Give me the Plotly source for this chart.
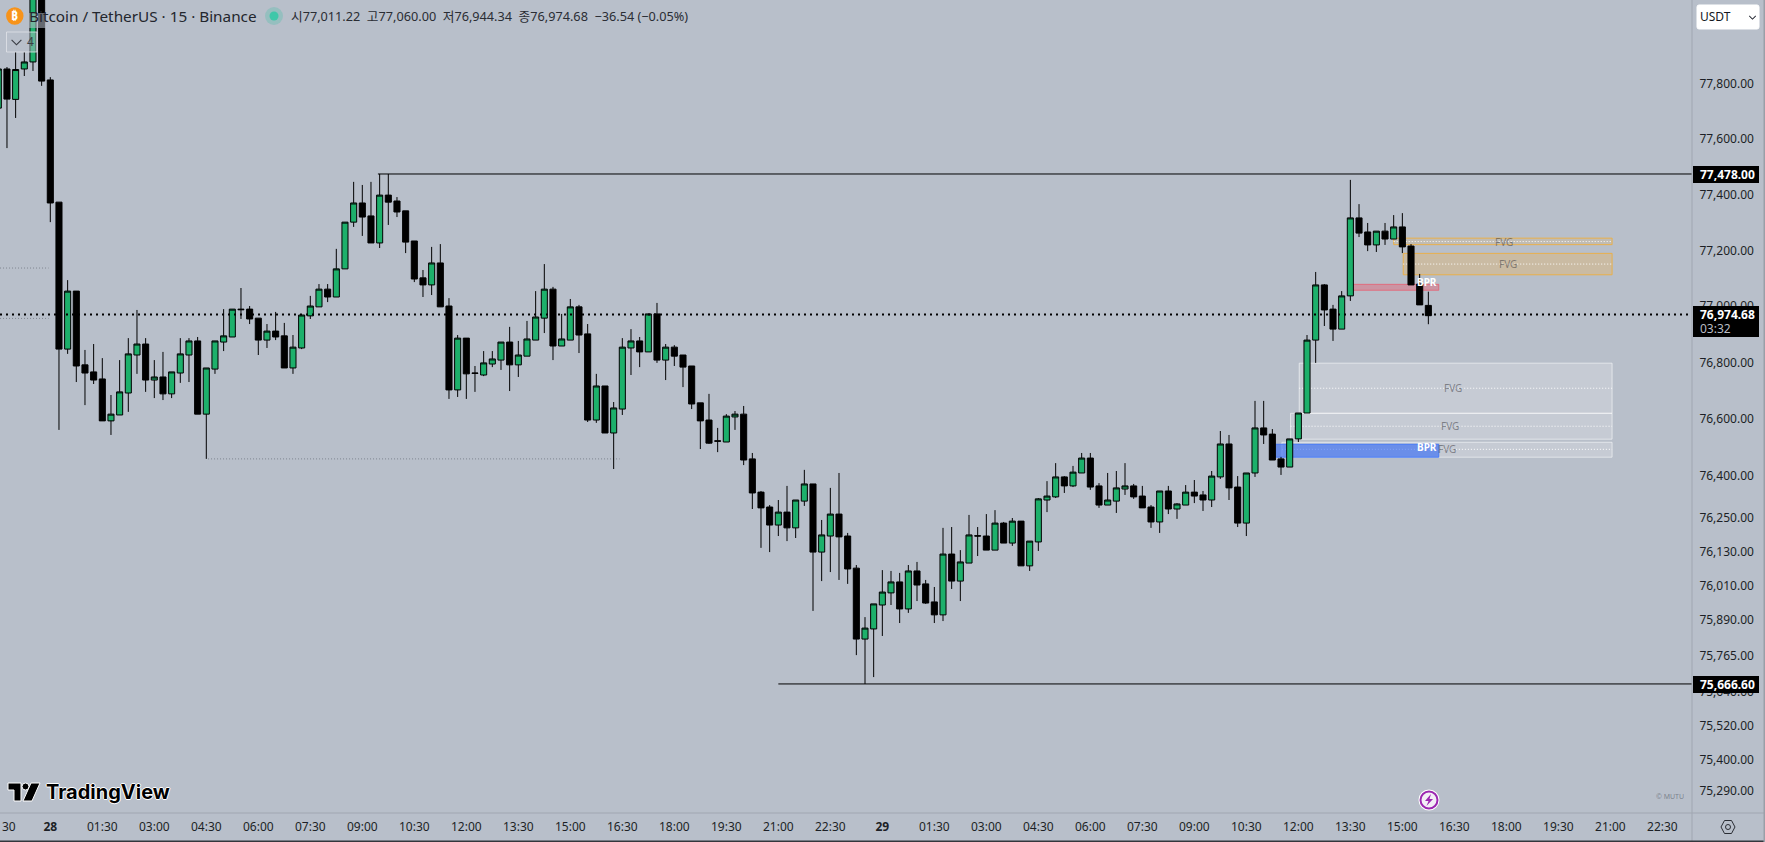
import plotly.graph_objects as go

# ---------- data ----------
bar_index = list(range(-6, 160))  # 15-minute bars, 0 = 28th 00:00

opens = [77712, 77851, 77743, 77851, 77876, 78167, 77812, 77378, 76856, 77062, 76800, 76775, 76750, 76601, 76622, 76700,
         76835, 76874, 76746, 76757, 76697, 76771, 76835, 76885, 76625, 76785, 76881, 76899, 76998, 76998, 76966, 76888,
         76920, 76903, 76789, 76860, 76974, 77006, 77069, 77041, 77141, 77307, 77375, 77329, 77233, 77403, 77382, 77347,
         77240, 77109, 77084, 77162, 77009, 76711, 76895, 76771, 76764, 76803, 76817, 76881, 76800, 76831, 76888, 76966,
         77069, 76867, 76888, 77006, 76910, 76604, 76725, 76558, 76643, 76860, 76885, 76846, 76981, 76817, 76863, 76835,
         76796, 76665, 76604, 76530, 76526, 76615, 76625, 76466, 76348, 76295, 76231, 76277, 76221, 76316, 76377, 76135,
         76192, 76270, 76192, 76078, 75826, 75862, 75947, 75990, 76029, 75933, 76068, 76022, 75958, 75912, 76128, 76032,
         76096, 76193, 76192, 76142, 76238, 76167, 76245, 76086, 76171, 76320, 76331, 76402, 76370, 76416, 76469, 76370,
         76302, 76316, 76359, 76370, 76334, 76295, 76242, 76352, 76288, 76302, 76348, 76338, 76320, 76402, 76519, 76366,
         76238, 76416, 76576, 76554, 76466, 76437, 76537, 76629, 76888, 77084, 76998, 76927, 77045, 77322, 77272, 77226,
         77275, 77247, 77290, 77222, 77087, 77011.22]

highs = [77870, 77858, 77911, 77911, 78200, 78200, 77822, 77378, 77101, 77062, 76853, 76874, 76824, 76693, 76817, 76895,
         76995, 76895, 76817, 76846, 76775, 76895, 76895, 76899, 76789, 76885, 76998, 76998, 77073, 77009, 76966, 76945,
         76988, 76949, 76906, 76977, 77045, 77087, 77087, 77212, 77307, 77450, 77439, 77450, 77478, 77478, 77396, 77347,
         77240, 77137, 77219, 77229, 77037, 76906, 76895, 76796, 76849, 76849, 76881, 76935, 76885, 76956, 77062, 77158,
         77077, 76981, 77034, 77013, 76945, 76768, 76725, 76668, 76895, 76927, 76899, 76981, 77020, 76874, 76870, 76835,
         76796, 76665, 76697, 76576, 76625, 76636, 76654, 76487, 76352, 76302, 76320, 76370, 76320, 76427, 76377, 76249,
         76363, 76416, 76203, 76089, 75904, 75951, 76071, 76068, 76061, 76089, 76100, 76036, 76011, 76221, 76224, 76142,
         76267, 76224, 76270, 76284, 76242, 76256, 76245, 76174, 76327, 76387, 76451, 76405, 76441, 76487, 76487, 76380,
         76416, 76423, 76451, 76377, 76370, 76302, 76352, 76370, 76309, 76373, 76391, 76352, 76423, 76565, 76551, 76405,
         76416, 76672, 76672, 76572, 76473, 76537, 76629, 76906, 77130, 77087, 77013, 77062, 77457, 77371, 77304, 77275,
         77304, 77332, 77339, 77229, 77123, 77060.00]

lows = [77700, 77570, 77677, 77826, 77844, 77791, 77307, 76569, 76839, 76739, 76657, 76732, 76601, 76551, 76622, 76633,
        76768, 76704, 76682, 76675, 76682, 76736, 76739, 76625, 76466, 76768, 76849, 76899, 76963, 76945, 76835, 76860,
        76888, 76789, 76768, 76856, 76963, 77006, 77023, 77041, 77141, 77290, 77258, 77233, 77215, 77297, 77325, 77197,
        77094, 77041, 77048, 77006, 76679, 76686, 76679, 76704, 76760, 76792, 76782, 76707, 76757, 76831, 76888, 76913,
        76817, 76867, 76888, 76842, 76597, 76594, 76558, 76430, 76622, 76764, 76792, 76846, 76807, 76746, 76796, 76721,
        76643, 76501, 76519, 76490, 76526, 76569, 76444, 76288, 76150, 76135, 76192, 76174, 76185, 76299, 75926, 76032,
        76064, 76036, 76022, 75769, 75666.6, 75691, 75837, 75947, 75883, 75919, 75961, 75951, 75883, 75890, 76004, 75961,
        76096, 76121, 76142, 76142, 76167, 76157, 76086, 76068, 76139, 76277, 76327, 76345, 76366, 76416, 76356, 76292,
        76302, 76274, 76338, 76324, 76292, 76221, 76203, 76270, 76253, 76302, 76309, 76281, 76295, 76395, 76320, 76224,
        76192, 76402, 76519, 76462, 76409, 76437, 76526, 76629, 76807, 76938, 76885, 76927, 77027, 77254, 77204, 77201,
        77226, 77247, 77197, 77084, 77013, 76944.34]

closes = [77851, 77744, 77849, 77876, 78167, 77808, 77375, 76856, 77062, 76796, 76771, 76746, 76601, 76625, 76704, 76839,
          76874, 76746, 76757, 76697, 76775, 76839, 76885, 76625, 76789, 76885, 76903, 76998, 76996, 76963, 76888, 76920,
          76899, 76789, 76863, 76977, 77009, 77069, 77041, 77141, 77307, 77375, 77325, 77233, 77403, 77378, 77343, 77236,
          77105, 77084, 77162, 77006, 76711, 76895, 76768, 76770, 76807, 76821, 76881, 76800, 76835, 76892, 76970, 77069,
          76867, 76892, 77006, 76906, 76604, 76725, 76558, 76647, 76863, 76885, 76846, 76981, 76817, 76863, 76831, 76792,
          76661, 76601, 76522, 76529, 76618, 76625, 76462, 76345, 76292, 76231, 76277, 76221, 76320, 76377, 76135, 76196,
          76270, 76189, 76075, 75826, 75865, 75951, 75993, 76029, 75933, 76068, 76018, 75954, 75912, 76128, 76032, 76100,
          76196, 76192, 76142, 76238, 76167, 76245, 76086, 76174, 76324, 76334, 76402, 76370, 76419, 76469, 76366, 76302,
          76320, 76363, 76370, 76331, 76292, 76242, 76352, 76288, 76306, 76348, 76334, 76320, 76405, 76519, 76363, 76238,
          76416, 76576, 76551, 76462, 76437, 76537, 76629, 76888, 77084, 76995, 76927, 77045, 77322, 77268, 77226, 77275,
          77247, 77290, 77219, 77084, 77013, 76974.68]

# zones: left bar, right bar, bottom price, top price, midline price
fvg_orange_thin = [155.0, 180.2, 77227, 77250, 77238]
fvg_orange_big = [156.1, 180.2, 77120, 77196, 77158]
bpr_red = [150.0, 160.2, 77065, 77086]
fvg_white_big = [144.1, 180.2, 76628, 76806, 76717]
fvg_white_mid = [143.1, 180.2, 76536, 76628, 76582]
fvg_white_low = [142.1, 180.2, 76472, 76525, 76500]
bpr_blue = [141.0, 160.2, 76472, 76518, 76500]

resistance_price = 77478.00
support_price = 75666.60
last_price_line = 76979
faint_levels = [(-5.8, -0.2, 77144), (-5.8, -0.2, 76965), (18.2, 65.7, 76466)]

price_tick_pos = [77799, 77604, 77405, 77206, 77009, 76808, 76608, 76407, 76258, 76137, 76016, 75896, 75768, 75639,
                  75519, 75398, 75288]
price_tick_text = ["77,800.00", "77,600.00", "77,400.00", "77,200.00", "77,000.00", "76,800.00", "76,600.00",
                   "76,400.00", "76,250.00", "76,130.00", "76,010.00", "75,890.00", "75,765.00", "75,640.00",
                   "75,520.00", "75,400.00", "75,290.00"]
time_tick_pos = list(range(0, 192, 6))
time_tick_text = ["<b>28</b>", "01:30", "03:00", "04:30", "06:00", "07:30", "09:00", "10:30", "12:00", "13:30", "15:00",
                  "16:30", "18:00", "19:30", "21:00", "22:30", "<b>29</b>", "01:30", "03:00", "04:30", "06:00", "07:30",
                  "09:00", "10:30", "12:00", "13:30", "15:00", "16:30", "18:00", "19:30", "21:00", "22:30"]

# ---------- style ----------
W, H = 1765, 842
PW, PH = 1692, 813
BG = "#B8BFCA"
GREEN = "#1DB06B"
FONT = "Noto Sans, Noto Sans CJK KR, sans-serif"
TXT = "#1c1f26"
XR = [-5.804, 189.42]
YR = [75208.2, 78096.0]


def px(x):
    return x / PW


def py(y):
    return 1 - y / PH


fig = go.Figure(go.Candlestick(
    x=bar_index, open=opens, high=highs, low=lows, close=closes,
    increasing=dict(line=dict(color="#000000", width=1), fillcolor=GREEN),
    decreasing=dict(line=dict(color="#000000", width=1), fillcolor="#000000"),
    whiskerwidth=0, hoverinfo="skip", showlegend=False,
))

shapes = []
annots = []


def zone(z, fill, border, mid=True):
    shapes.append(dict(type="rect", layer="below", xref="x", yref="y", x0=z[0], x1=z[1], y0=z[2], y1=z[3],
                       fillcolor=fill, line=dict(color=border, width=1)))
    if mid and len(z) > 4:
        shapes.append(dict(type="line", layer="below", xref="x", yref="y", x0=z[0], x1=z[1], y0=z[4], y1=z[4],
                           line=dict(color="#ffffff", width=1, dash="1px,2px")))


def zone_label(bar, price, text, color="rgba(50,50,55,0.5)", bold=False):
    annots.append(dict(xref="x", yref="y", x=bar, y=price, text=f"<b>{text}</b>" if bold else text, showarrow=False,
                       font=dict(family=FONT, size=10, color=color)))


WHITE_FILL, WHITE_LINE = "rgba(255,255,255,0.2)", "rgba(255,255,255,0.55)"
zone(fvg_white_big, WHITE_FILL, WHITE_LINE)
zone(fvg_white_mid, WHITE_FILL, WHITE_LINE)
zone(fvg_white_low, WHITE_FILL, WHITE_LINE)
zone(fvg_orange_thin, "rgba(240,180,80,0.18)", "rgba(235,175,70,0.95)")
zone(fvg_orange_big, "rgba(240,180,80,0.32)", "rgba(235,175,70,0.95)")
zone(bpr_red, "rgba(235,85,105,0.4)", "rgba(235,85,105,0.7)", mid=False)
zone(bpr_blue, "rgba(50,105,245,0.62)", "rgba(60,115,250,0.85)", mid=False)

for lv in faint_levels:
    shapes.append(dict(type="line", layer="below", xref="x", yref="y", x0=lv[0], x1=lv[1], y0=lv[2], y1=lv[2],
                       line=dict(color="rgba(90,95,105,0.6)", width=1, dash="1px,2px")))

# levels
shapes.append(dict(type="line", xref="x", yref="y", x0=37.8, x1=XR[1], y0=resistance_price, y1=resistance_price,
                   line=dict(color="#000", width=1)))
shapes.append(dict(type="line", xref="x", yref="y", x0=84, x1=XR[1], y0=support_price, y1=support_price,
                   line=dict(color="#000", width=1)))
shapes.append(dict(type="line", xref="x", yref="y", x0=XR[0], x1=XR[1], y0=last_price_line, y1=last_price_line,
                   line=dict(color="#000", width=2, dash="2px,4px")))

zone_label(167.7, 77238, "FVG")
zone_label(168.2, 77158, "FVG")
zone_label(161.9, 76717, "FVG")
zone_label(161.5, 76582, "FVG")
zone_label(161.1, 76500, "FVG")
zone_label(158.9, 77095, "BPR", "#ffffff", True)
zone_label(158.9, 76508, "BPR", "#ffffff", True)


def box(x0, y0, x1, y1, fill, line="rgba(0,0,0,0)", lw=0):
    shapes.append(dict(type="rect", xref="paper", yref="paper", x0=px(x0), x1=px(x1), y0=py(y0), y1=py(y1),
                       fillcolor=fill, line=dict(color=line, width=lw)))


def label(x, y, text, size=12, color=TXT, anchor="left", family=FONT, **font_kw):
    annots.append(dict(xref="paper", yref="paper", x=px(x), y=py(y), text=text, showarrow=False, xanchor=anchor,
                       yanchor="middle", xshift=0, align="left", borderpad=0,
                       font=dict(family=family, size=size, color=color, **font_kw)))


def poly(points, fill="rgba(0,0,0,0)", line=None, lw=0):
    d = "M " + " L ".join(f"{px(a):.5f},{py(b):.5f}" for a, b in points) + " Z"
    shapes.append(dict(type="path", xref="paper", yref="paper", path=d, fillcolor=fill,
                       line=dict(color=line or "rgba(0,0,0,0)", width=lw)))


def circle(cx, cy, r, fill, line="rgba(0,0,0,0)", lw=0):
    shapes.append(dict(type="circle", xref="paper", yref="paper", x0=px(cx - r), x1=px(cx + r), y0=py(cy + r),
                       y1=py(cy - r), fillcolor=fill, line=dict(color=line, width=lw)))


# price tags on the right axis
box(1693, 166, 1759, 183, "#000")
label(1699, 174.5, "<b>77,478.00</b>", 12, "#fff")
box(1693, 306, 1759, 337, "#000")
label(1699, 314, "<b>76,974.68</b>", 12, "#fff")
label(1699, 328, "03:32", 12, "#b9bdc4")
box(1693, 676, 1759, 693, "#000")
label(1699, 684.5, "<b>75,666.60</b>", 12, "#fff")

# axis dividers and window edge
shapes.append(dict(type="line", xref="paper", yref="paper", x0=1, x1=1, y0=py(0), y1=py(H),
                   line=dict(color="#a0a6b1", width=1)))
shapes.append(dict(type="line", xref="paper", yref="paper", x0=0, x1=px(W), y0=0, y1=0,
                   line=dict(color="#a0a6b1", width=1)))
box(0, 840.5, W, H, "#33363c")
box(1763.5, 0, W, H, "#9a9fa8")

# legend washes over the candles
box(28, 13, 258, 28, "rgba(184,191,202,0.55)")
box(6.5, 32, 37, 52, "rgba(184,191,202,0.45)", "rgba(225,228,233,0.8)", 1)

# header
circle(14.8, 16, 8.7, "#F7931A")
label(14.8, 16, "<b>₿</b>", 12, "#fff", "center")
label(28, 16, "Bitcoin / TetherUS · 15 · Binance", 15.3, "#23262d")
circle(274, 16, 9, "rgba(60,190,165,0.28)")
circle(274, 16, 4.5, "#3FC7A9")
label(290, 16, "시77,011.22  고77,060.00  저76,944.34  종76,974.68  −36.54 (−0.05%)", 12.7, "#2a2d34")
poly([(12, 39.5), (16.5, 44), (21, 39.5), (21.8, 40.3), (16.5, 45.6), (11.2, 40.3)], "#3a3d44")
label(26, 42, "4", 12, "#3a3d44")

# currency selector
shapes.append(dict(type="path", xref="paper", yref="paper", fillcolor="#ffffff", line=dict(color="#ffffff", width=1),
                   path=(f"M {px(1699):.5f},{py(5):.5f} L {px(1757):.5f},{py(5):.5f} "
                         f"Q {px(1759):.5f},{py(5):.5f} {px(1759):.5f},{py(7):.5f} L {px(1759):.5f},{py(27):.5f} "
                         f"Q {px(1759):.5f},{py(29):.5f} {px(1757):.5f},{py(29):.5f} L {px(1699):.5f},{py(29):.5f} "
                         f"Q {px(1697):.5f},{py(29):.5f} {px(1697):.5f},{py(27):.5f} L {px(1697):.5f},{py(7):.5f} "
                         f"Q {px(1697):.5f},{py(5):.5f} {px(1699):.5f},{py(5):.5f} Z")))
label(1699, 16.5, "USDT", 12, "#131722")
poly([(1749.5, 15.5), (1752.5, 18.5), (1755.5, 15.5), (1756, 16.2), (1752.5, 19.7), (1749, 16.2)], "#131722")

# TradingView mark
OUT = "#ffffff"
poly([(8, 783), (21, 783), (21, 801), (14, 801), (14, 790), (8, 790)], "#000", OUT, 1)
circle(25.5, 786.5, 3.5, "#000", OUT, 1)
poly([(31, 783), (40, 783), (32, 801), (23, 801)], "#000", OUT, 1)
label(45, 792, "<b>TradingView</b>", 20, "#000", family="Inter, Noto Sans, sans-serif",
      shadow="1px 0 #fff,-1px 0 #fff,0 1px #fff,0 -1px #fff")

# watermark, lightning and settings
label(1655, 796, "© MUTU", 7, "rgba(70,75,85,0.55)")
circle(1429, 800, 10.5, "#ffffff")
circle(1429, 800, 8.5, "#f3eef6", "#9C27B0", 2)
poly([(1431, 794), (1425, 801), (1428.5, 801), (1426.5, 806), (1433, 799), (1429.5, 799)], "#9C27B0")
poly([(1721, 827), (1724.5, 820.5), (1731.5, 820.5), (1735, 827), (1731.5, 833.5), (1724.5, 833.5)], "rgba(0,0,0,0)", "#2a2d34", 1)
circle(1728, 827, 2.5, "rgba(0,0,0,0)", "#2a2d34", 1)

# clipped "22:30" at the far left
label(1, 826.5, "30", 12, TXT)

fig.update_layout(
    width=W, height=H, autosize=False,
    margin=dict(l=0, r=W - PW, t=0, b=H - PH, pad=0),
    paper_bgcolor=BG, plot_bgcolor=BG,
    showlegend=False,
    dragmode=False, hovermode=False,
    boxgap=0.3, boxgroupgap=0,
    shapes=shapes, annotations=annots,
    xaxis=dict(range=XR, rangeslider=dict(visible=False), showgrid=False, zeroline=False, showline=False,
               tickmode="array", tickvals=time_tick_pos, ticktext=time_tick_text,
               tickfont=dict(family=FONT, size=12, color=TXT), ticks="outside", ticklen=3,
               tickcolor="rgba(0,0,0,0)", fixedrange=True),
    yaxis=dict(range=YR, side="right", showgrid=False, zeroline=False, showline=False,
               tickmode="array", tickvals=price_tick_pos, ticktext=price_tick_text,
               tickfont=dict(family=FONT, size=12, color=TXT), ticks="outside", ticklen=4,
               tickcolor="rgba(0,0,0,0)", fixedrange=True),
)

fig.write_html("out.html", config={"displayModeBar": False, "staticPlot": True},
               post_script="document.body.style.margin='0';document.body.style.overflow='hidden';")
